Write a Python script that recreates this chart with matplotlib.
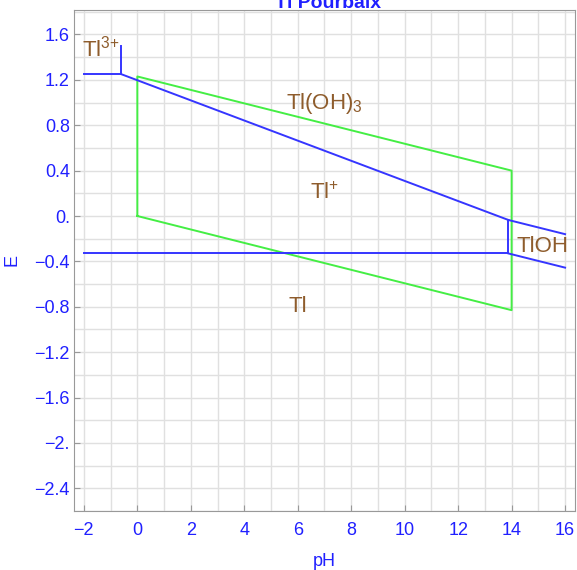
import matplotlib
matplotlib.use("Agg")
import matplotlib.pyplot as plt

plt.rcParams['font.family'] = ['Liberation Sans', 'DejaVu Sans']
plt.rcParams['mathtext.fontset'] = 'custom'
plt.rcParams['mathtext.rm'] = 'Liberation Sans'

BLUE = '#3535ff'
GREEN = '#44ee44'
BROWN = '#8e5c2c'
TEXT_BLUE = '#2020ff'

# species boundaries (pH, E)
tl3_cap_ph = [-2, -0.6]
tl3_cap_e = [1.25, 1.25]
tl3_wall_ph = [-0.6, -0.6]
tl3_wall_e = [1.25, 1.50]
tloh3_tlp_ph = [-0.6, 13.88]
tloh3_tlp_e = [1.25, -0.035]
tloh3_tloh_ph = [13.88, 16]
tloh3_tloh_e = [-0.035, -0.16]
tlp_tl_ph = [-2, 13.88]
tlp_tl_e = [-0.33, -0.33]
tlp_tloh_ph = [13.88, 13.88]
tlp_tloh_e = [-0.33, -0.035]
tloh_tl_ph = [13.88, 16]
tloh_tl_e = [-0.33, -0.455]

# water stability window
water_ph = [0, 0, 14, 14, 0]
water_e = [0.0, 1.23, 0.40, -0.83, 0.0]

# species labels
label_text = [r'Tl$\mathregular{^{3{+}}}$', r'Tl(OH)$\mathregular{_3}$',
              r'Tl$\mathregular{^{{+}}}$', 'Tl', 'TlOH']
label_ph = [-1.35, 7.0, 7.0, 6.0, 15.15]
label_e = [1.48, 0.99, 0.20, -0.80, -0.27]

x_ticks = [-2, 0, 2, 4, 6, 8, 10, 12, 14, 16]
y_ticks = [1.6, 1.2, 0.8, 0.4, 0.0, -0.4, -0.8, -1.2, -1.6, -2.0, -2.4]
y_tick_labels = ['1.6', '1.2', '0.8', '0.4', '0.', '\u22120.4', '\u22120.8',
                 '\u22121.2', '\u22121.6', '\u22122.', '\u22122.4']


def main():
    fig = plt.figure(figsize=(5.77, 5.70), dpi=100)
    ax = fig.add_axes([0.1282, 0.1035, 0.8683, 0.8798])

    for x in range(-2, 17):
        ax.axvline(x, color='#e0e0e0', lw=1, zorder=0)
    for i in range(-13, 10):
        ax.axhline(i * 0.2, color='#e0e0e0', lw=1, zorder=0)

    ax.plot(water_ph, water_e, color=GREEN, lw=1.4)

    segments = [
        (tl3_cap_ph, tl3_cap_e),
        (tl3_wall_ph, tl3_wall_e),
        (tloh3_tlp_ph, tloh3_tlp_e),
        (tloh3_tloh_ph, tloh3_tloh_e),
        (tlp_tl_ph, tlp_tl_e),
        (tlp_tloh_ph, tlp_tloh_e),
        (tloh_tl_ph, tloh_tl_e),
    ]
    for xs, ys in segments:
        ax.plot(xs, ys, color=BLUE, lw=1.4)

    for txt, x, y in zip(label_text, label_ph, label_e):
        ax.text(x, y, txt, color=BROWN, fontsize=16, ha='center', va='center')

    ax.set_xlim(-2.37, 16.37)
    ax.set_ylim(-2.60, 1.82)
    ax.set_xticks(x_ticks)
    ax.set_xticklabels([str(v).replace('-', '\u2212') for v in x_ticks])
    ax.set_yticks(y_ticks)
    ax.set_yticklabels(y_tick_labels)
    ax.tick_params(direction='in', length=4, color='#999999',
                   labelcolor=TEXT_BLUE, labelsize=13)
    ax.tick_params(axis='x', pad=8)
    ax.tick_params(axis='y', pad=3)
    for s in ax.spines.values():
        s.set_color('#999999')

    ax.set_xlabel('pH', color=TEXT_BLUE, fontsize=13, labelpad=10)
    ax.set_ylabel('E', color=TEXT_BLUE, fontsize=13, labelpad=10)

    fig.text(0.568, 1 - 8 / 570, 'Tl Pourbaix', color=TEXT_BLUE, fontsize=14,
             fontweight='bold', ha='center', va='baseline')

    fig.savefig('out.png', dpi=100)


if __name__ == "__main__":
    main()
